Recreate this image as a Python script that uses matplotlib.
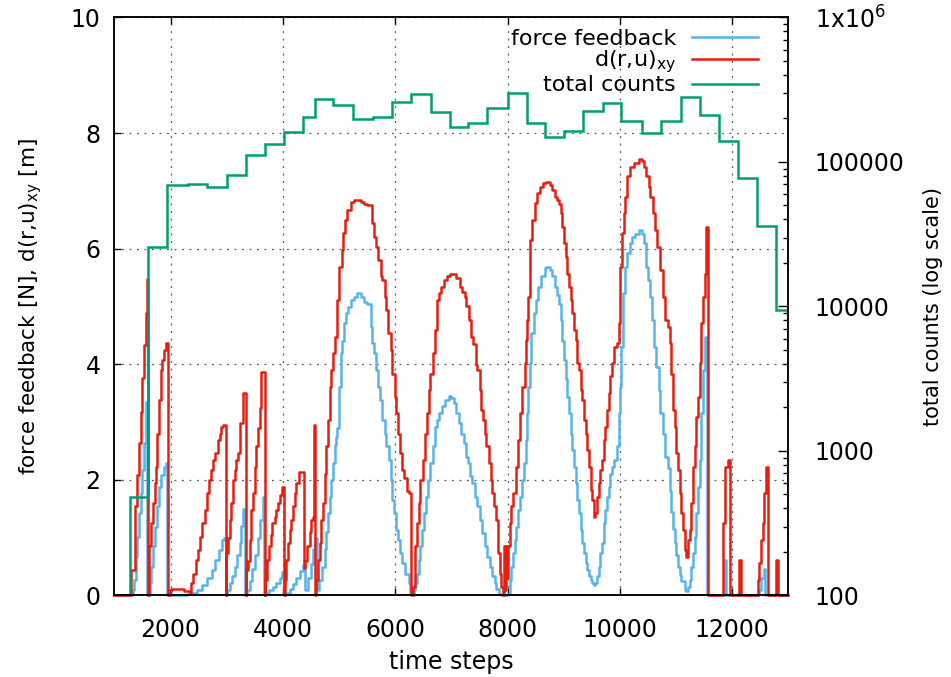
import matplotlib
matplotlib.use('Agg')
import matplotlib.pyplot as plt
from matplotlib.ticker import FixedLocator, LogLocator, NullFormatter

plt.rcParams['font.family'] = ['DejaVu Sans']
plt.rcParams['mathtext.fontset'] = 'dejavusans'

# total counts histogram (bin edges and counts, log axis)
count_edges = [1270, 1590, 1940, 2310, 2650, 3000, 3340, 3680, 4020, 4350, 4580,
               4900, 5240, 5600, 5940, 6290, 6630, 6970, 7300, 7640, 8000, 8340,
               8670, 9010, 9350, 9700, 10030, 10400, 10740, 11090, 11430, 11770,
               12100, 12440, 12780, 13120]
counts = [480, 25900, 69300, 70400, 67500, 81300, 111700, 133300, 162100, 205900,
          271600, 247800, 197500, 204800, 259000, 295700, 222900, 175500, 185200,
          235300, 301800, 187200, 149700, 163900, 226500, 254900, 192200, 158000,
          192200, 280500, 211500, 139900, 77900, 36100, 9460]

# d(r,u)_xy
red_x = [1000, 1300, 1360, 1396, 1437, 1467, 1497, 1526, 1556, 1574, 1590,
         1620, 1660, 1692, 1720, 1734, 1763, 1793, 1823, 1852, 1882, 1911, 1950,
         1988, 2030, 2237, 2344, 2368, 2403, 2445, 2486, 2522, 2563, 2605, 2640,
         2682, 2723, 2759, 2800, 2842, 2877, 2901, 2936, 2985,
         2996, 3025, 3055, 3085, 3114, 3144, 3173, 3203, 3233, 3292, 3339,
         3351, 3381, 3410, 3440, 3470, 3499, 3529, 3559, 3588, 3618, 3677,
         3689, 3724, 3754, 3784, 3813, 3855, 3884, 3914, 3944, 3985, 4015,
         4032, 4062, 4092, 4121, 4151, 4181, 4210, 4240, 4281, 4370,
         4400, 4435, 4477, 4507, 4536, 4554, 4578,
         4595, 4625, 4655, 4684, 4714, 4744, 4773, 4803, 4832, 4862, 4892, 4921,
         4960, 5000, 5046, 5069, 5105, 5146, 5206, 5265, 5324, 5383, 5443, 5502,
         5579, 5620, 5650, 5697, 5739, 5769, 5816, 5840, 5875, 5917, 5946, 5994,
         6023, 6053, 6094, 6124, 6154, 6213, 6254, 6290,
         6314, 6349, 6391, 6420, 6450, 6491, 6527, 6568, 6598, 6628, 6669, 6705,
         6746, 6788, 6823, 6865, 6924, 6983, 7042, 7090, 7149, 7196, 7238, 7268,
         7315, 7356, 7386, 7433, 7457, 7505, 7534, 7564, 7593, 7623, 7670, 7700,
         7730, 7759, 7789, 7830, 7860, 7890, 7919, 7935, 7950, 7975, 7990, 8008,
         8038, 8067, 8097, 8144, 8186, 8227, 8263, 8304, 8322, 8346, 8364, 8393,
         8441, 8482, 8524, 8571, 8630, 8690, 8749, 8796, 8838, 8885, 8915, 8944,
         8974, 9004, 9033, 9063, 9092, 9122, 9152, 9181, 9211, 9241, 9270, 9300,
         9329, 9359, 9389, 9418, 9448, 9478, 9507, 9537, 9566, 9596, 9626, 9655,
         9685, 9715, 9744, 9774, 9803, 9833, 9863, 9892, 9952, 9981, 9999, 10011,
         10040, 10070, 10100, 10129, 10189, 10248, 10337, 10396, 10437, 10473,
         10514, 10544, 10591, 10633, 10663, 10722, 10769, 10811, 10858, 10888,
         10917, 10947, 10977, 11006, 11036, 11065, 11095, 11125, 11154, 11184,
         11213, 11243, 11273, 11302, 11332, 11362, 11391, 11421, 11451, 11480,
         11510, 11539, 11569, 11836, 11877, 11925, 11954, 12114, 12150, 12458,
         12487, 12517, 12547, 12576, 12606, 12635, 12784, 12825, 13000]
red_y = [0, 0.44, 1.54, 2.08, 2.63, 3.18, 3.76, 4.33, 4.88, 5.47, 0,
         0.85, 1.25, 1.6, 1.95, 2.23, 2.8, 3.38, 3.9, 4.07, 4.25, 4.36, 0,
         0.1, 0.12, 0.07, 0.05, 0.21, 0.38, 0.62, 0.79, 1.02, 1.25, 1.48, 1.77,
         2.0, 2.17, 2.34, 2.46, 2.69, 2.8, 2.92, 2.95, 0,
         0.73, 0.99, 1.3, 1.6, 2.0, 2.17, 2.34, 2.46, 2.98, 3.5, 0,
         0.44, 0.6, 0.96, 1.48, 1.77, 2.23, 2.58, 2.89, 3.24, 3.87, 0,
         0.27, 0.62, 0.85, 1.05, 1.25, 1.36, 1.48, 1.6, 1.74, 1.88, 0,
         0.27, 0.62, 0.9, 1.13, 1.31, 1.54, 1.77, 1.94, 2.14, 0.48,
         0.6, 0.85, 1.1, 1.3, 1.35, 2.95, 0,
         0.27, 0.62, 0.9, 1.31, 1.6, 2.11, 2.58, 3.04, 3.61, 3.9, 4.2, 4.48,
         5.11, 5.69, 5.97, 6.27, 6.5, 6.67, 6.81, 6.84, 6.85, 6.81, 6.77, 6.75,
         6.44, 6.2, 6.03, 5.8, 5.52, 5.45, 5.17, 4.94, 4.54, 4.25, 3.84, 3.44,
         3.15, 2.8, 2.46, 2.17, 2.03, 1.8, 1.77, 0,
         0.15, 0.85, 1.25, 1.6, 2.0, 2.34, 2.8, 3.15, 3.55, 3.84, 4.19, 4.6,
         5.11, 5.23, 5.34, 5.46, 5.52, 5.57, 5.57, 5.49, 5.34, 5.25, 5.17, 5.0,
         4.77, 4.48, 4.35, 3.99, 3.9, 3.56, 3.21, 3.04, 2.8, 2.58, 2.29, 2.0,
         1.77, 1.54, 1.31, 0.73, 0.38, 0.15, 0, 0.85, 0.1, 0.85, 0.3, 0.85,
         1.25, 1.54, 1.77, 2.23, 2.69, 3.15, 3.61, 4.02, 4.42, 4.77, 5.17, 6.15,
         6.5, 6.79, 6.96, 7.07, 7.14, 7.16, 7.1, 7.02, 6.9, 6.85, 6.77, 6.61,
         6.38, 6.09, 5.85, 5.57, 5.34, 5.11, 4.88, 4.6, 4.42, 4.02, 3.9, 3.55,
         3.38, 3.04, 2.8, 2.52, 2.23, 1.83, 1.65, 1.36, 1.42, 1.71, 1.94, 2.17,
         2.34, 2.69, 2.92, 3.21, 3.5, 3.79, 4.02, 4.3, 4.36, 4.71, 5.17, 5.69,
         6.27, 6.61, 6.9, 7.25, 7.42, 7.48, 7.55, 7.51, 7.42, 7.25,
         7.07, 6.9, 6.61, 6.32, 6.03, 5.63, 5.17, 4.77, 4.65, 4.36,
         3.84, 3.21, 2.92, 2.46, 2.17, 1.77, 1.42, 1.13, 0.79, 0.67,
         0.96, 1.13, 1.6, 2.23, 2.58, 3.09, 3.44, 4.02, 4.71, 5.17,
         5.57, 6.38, 0, 1.25, 2.23, 2.34, 0, 0.62, 0, 0.27,
         0.56, 0.96, 1.25, 1.77, 2.23, 0, 0.62, 0, 0]

# force feedback
blue_x = [1000, 1331, 1349, 1378, 1408, 1437, 1467, 1497, 1526, 1556, 1586,
          1633, 1657, 1692, 1716, 1751, 1793, 1834, 1882, 1923, 1941,
          2300, 2356, 2474, 2563, 2652, 2741, 2800, 2859, 2919, 2948, 2984,
          3013, 3055, 3096, 3144, 3191, 3233, 3262, 3292, 3321,
          3360, 3410, 3450, 3500, 3550, 3600, 3640, 3670,
          3700, 3760, 3820, 3880, 3940, 3990, 4015,
          4060, 4120, 4180, 4240, 4300, 4360,
          4400, 4450, 4500, 4540, 4570,
          4600, 4650, 4700, 4744, 4773, 4803, 4832, 4862, 4892, 4921, 4939,
          4969, 4998, 5028, 5057, 5087, 5117, 5164, 5206, 5265, 5324, 5383, 5443,
          5502, 5561, 5591, 5620, 5650, 5697, 5727, 5769, 5816, 5840, 5887, 5917,
          5946, 5976, 6017, 6053, 6094, 6124, 6183, 6242, 6272, 6302, 6331, 6361,
          6391, 6420, 6450, 6479, 6509, 6551, 6586, 6628, 6669, 6705, 6746, 6788,
          6835, 6894, 6953, 7001, 7042, 7090, 7137, 7179, 7220, 7268, 7297, 7338,
          7374, 7416, 7457, 7505, 7552, 7593, 7635, 7682, 7730, 7771, 7800, 7848,
          7890, 8008, 8038, 8067, 8097, 8127, 8156, 8186, 8215, 8263, 8287, 8322,
          8346, 8364, 8393, 8423, 8464, 8500, 8541, 8600, 8660, 8690, 8749, 8796,
          8838, 8885, 8915, 8944, 8974, 9004, 9033, 9063, 9092, 9122, 9152, 9181,
          9211, 9241, 9270, 9300, 9329, 9359, 9389, 9418, 9448, 9478, 9507, 9537,
          9566, 9596, 9626, 9655, 9685, 9715, 9744, 9774, 9803, 9833, 9863, 9892,
          9952, 9981, 9999, 10023, 10058, 10100, 10129, 10177, 10218, 10278, 10337,
          10396, 10426, 10473, 10496, 10532, 10574, 10615, 10651, 10692, 10722,
          10769, 10811, 10858, 10888, 10917, 10947, 10977, 11006, 11036, 11065,
          11095, 11154, 11184, 11213, 11243, 11273, 11302, 11332, 11362, 11391,
          11421, 11451, 11480, 11510, 11555, 11870, 11890, 12480, 12520, 12560,
          12590, 13000]
blue_y = [0, 0.1, 0.27, 0.67, 1.02, 1.42, 1.77, 2.17, 2.63, 3.34, 0,
          0.21, 0.5, 0.85, 1.19, 1.54, 1.88, 2.08, 2.23, 2.29, 0,
          0.02, 0.04, 0.1, 0.18, 0.3, 0.44, 0.62, 0.79, 0.96, 0.99, 0,
          0.1, 0.21, 0.33, 0.5, 0.7, 0.9, 1.2, 1.5, 0,
          0.1, 0.25, 0.45, 0.7, 1.0, 1.3, 1.7, 0,
          0.05, 0.1, 0.15, 0.22, 0.3, 0.4, 0,
          0.05, 0.12, 0.2, 0.3, 0.42, 0.53,
          0.1, 0.3, 0.55, 0.8, 1.0,
          0.1, 0.27, 0.5, 0.8, 1.1, 1.42, 1.71, 2.0, 2.29, 2.6, 2.75,
          2.89, 3.61, 4.19, 4.4, 4.71, 4.88, 4.99, 5.11, 5.17, 5.23, 5.17, 5.08,
          5.05, 4.65, 4.36, 4.19, 3.9, 3.61, 3.38, 3.04, 2.8, 2.58, 2.34, 2.0,
          1.65, 1.42, 1.13, 0.96, 0.73, 0.56, 0.38, 0.21, 0.06, 0, 0.1, 0.21,
          0.38, 0.62, 0.85, 1.13, 1.42, 1.71, 2.0, 2.29, 2.58, 2.92, 3.04, 3.15,
          3.27, 3.38, 3.45, 3.42, 3.33, 3.15, 2.98, 2.8, 2.63, 2.4, 2.29, 2.06,
          1.95, 1.71, 1.54, 1.31, 1.08, 0.85, 0.67, 0.5, 0.33, 0.21, 0.12, 0.03,
          0, 0.03, 0.27, 0.5, 0.73, 0.96, 1.19, 1.48, 1.71, 2.0, 2.29, 2.69,
          3.15, 3.61, 4.02, 4.54, 4.88, 5.11, 5.34, 5.52, 5.66, 5.69, 5.63, 5.52,
          5.34, 5.2, 5.05, 4.77, 4.4, 4.07, 3.75, 3.44, 3.15, 2.8, 2.52, 2.23,
          1.94, 1.65, 1.42, 1.13, 0.9, 0.73, 0.56, 0.44, 0.33, 0.27, 0.21, 0.18,
          0.21, 0.33, 0.5, 0.73, 0.9, 1.25, 1.48, 1.71, 1.88, 2.11, 2.23, 2.34,
          2.58, 3.15, 3.61, 4.3, 5.23, 5.69, 5.92, 6.09, 6.2, 6.26, 6.32,
          6.26, 6.09, 5.69, 5.46, 5.17, 4.77, 4.3, 3.96, 3.55, 3.15,
          2.8, 2.4, 2.2, 1.8, 1.45, 1.15, 0.9, 0.7, 0.5, 0.35,
          0.25, 0.1, 0.08, 0.15, 0.27, 0.5, 0.73, 1.02, 1.42, 1.88,
          2.34, 3.15, 3.9, 4.48, 0, 0.62, 0, 0.1, 0.3, 0.45,
          0, 0]

fs = 17
lw = 1.8
fig = plt.figure(figsize=(9.51, 6.77), dpi=100)
ax1 = fig.add_axes([0.1203, 0.1204, 0.7086, 0.8538])
ax2 = ax1.twinx()

ax1.step(blue_x, blue_y, where='post', color='#56b4e9', lw=lw,
         label='force feedback', clip_on=False)
ax1.step(red_x, red_y, where='post', color='#e51e10', lw=lw,
         label=r'd(r,u)$_{\mathregular{xy}}$', clip_on=False)
ax2.stairs(counts, count_edges, baseline=100, color='#009e73', lw=lw,
           label='total counts')

ax1.set_xlim(1000, 13000)
ax1.set_ylim(0, 10)
ax2.set_yscale('log')
ax2.set_ylim(100, 1e6)

ax1.xaxis.set_major_locator(FixedLocator([2000, 4000, 6000, 8000, 10000, 12000]))
ax1.yaxis.set_major_locator(FixedLocator([0, 2, 4, 6, 8, 10]))
ax1.grid(True, color='0.35', linestyle=(0, (1.5, 4.5)), lw=0.9)
ax1.tick_params(direction='in', length=5, width=1, labelsize=fs, top=True,
                right=False)
ax1.tick_params(axis='x', pad=16)
ax1.tick_params(axis='y', pad=10)

ax2.yaxis.set_major_locator(FixedLocator([100, 1000, 10000, 100000, 1e6]))
ax2.set_yticklabels(['100', '1000', '10000', '100000',
                     r'1x10$^{\mathregular{6}}$'])
ax2.yaxis.set_minor_locator(LogLocator(base=10, subs=range(2, 10)))
ax2.yaxis.set_minor_formatter(NullFormatter())
ax2.tick_params(which='major', direction='in', length=7, width=1,
                labelsize=fs, pad=19)
ax2.tick_params(which='minor', direction='in', length=3.5, width=1)

for ax in (ax1, ax2):
    for sp in ax.spines.values():
        sp.set_linewidth(1.1)

ax1.set_xlabel('time steps', fontsize=fs)
ax1.xaxis.set_label_coords(0.5, -0.094)
ax1.xaxis.label.set_va('top')
ax1.set_ylabel(r'force feedback [N], d(r,u)$_{\mathregular{xy}}$ [m]', fontsize=15.5)
ax1.yaxis.set_label_coords(-0.105, 0.5)
ax2.set_ylabel('total counts (log scale)', fontsize=15)
ax2.yaxis.set_label_coords(1.1997, 0.5)

h1, l1 = ax1.get_legend_handles_labels()
h2, l2 = ax2.get_legend_handles_labels()
ax2.legend(h1 + h2, l1 + l2, loc='upper right', bbox_to_anchor=(0.972, 1.0),
           frameon=False, fontsize=16, markerfirst=False, handlelength=3.0,
           handletextpad=0.7, labelspacing=0.0, borderaxespad=0.1)

fig.savefig('out.png', dpi=100)
